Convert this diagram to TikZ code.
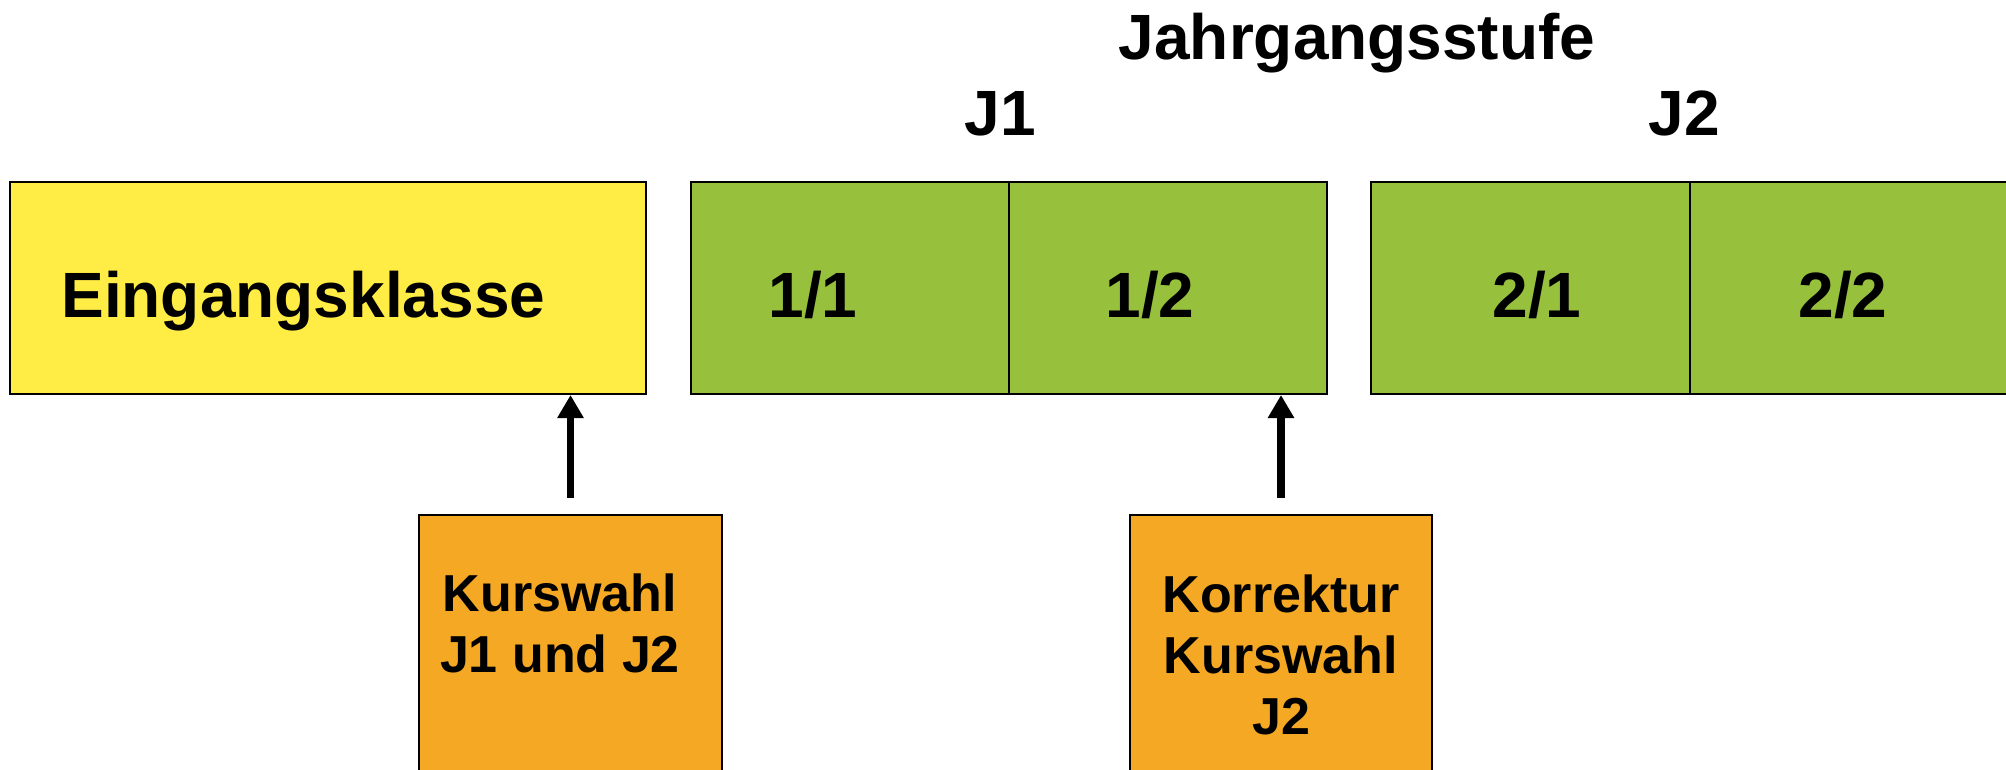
\documentclass[tikz,border=0pt]{standalone}
\usepackage{fontspec}
\setmainfont{Liberation Sans}
\usetikzlibrary{arrows.meta}
\definecolor{yelc}{RGB}{255,236,68}
\definecolor{grnc}{RGB}{151,192,60}
\definecolor{orac}{RGB}{245,168,35}
\tikzset{
  box/.style={draw=black, line width=1pt, rectangle, inner sep=0pt, minimum height=106pt},
  bigtxt/.style={inner sep=0pt, font=\fontsize{32}{38}\selectfont\bfseries},
  smalltxt/.style={inner sep=0pt, align=center, font=\fontsize{26}{30.5}\selectfont\bfseries},
  arr/.style={line width=3.6pt, -{Triangle[width=12.5pt,length=11.5pt]}}
}
\begin{document}
\begin{tikzpicture}[x=0.5pt,y=-0.5pt]
\useasboundingbox (0,0) rectangle (2006,770);
% boxes
\node[box, fill=yelc, minimum width=318pt] (yel) at (328,288) {};
\node[box, fill=grnc, minimum width=159pt] (g11) at (850,288) {};
\node[box, fill=grnc, minimum width=159pt] (g12) at (1168,288) {};
\node[box, fill=grnc, minimum width=159.5pt] (g21) at (1530.5,288) {};
\node[box, fill=grnc, minimum width=159.5pt] (g22) at (1849.5,288) {};
\node[box, fill=orac, minimum width=151.5pt, minimum height=142.5pt] (o1) at (570.5,657) {};
\node[box, fill=orac, minimum width=151pt, minimum height=142.5pt] (o2) at (1281,657) {};
% texts
\node[bigtxt, anchor=base west] (tE) at (61,317) {Eingangsklasse};
\node[bigtxt, anchor=base] (t11) at (813,317) {1/1};
\node[bigtxt, anchor=base] (t12) at (1150,317) {1/2};
\node[bigtxt, anchor=base] (t21) at (1537,317) {2/1};
\node[bigtxt, anchor=base] (t22) at (1843,317) {2/2};
\node[bigtxt, anchor=base] (tJ) at (1357,60) {Jahrgangsstufe};
\node[bigtxt, anchor=base] (tJ1) at (1000,136) {J1};
\node[bigtxt, anchor=base] (tJ2) at (1684,136) {J2};
\node[smalltxt, anchor=base] (to1) at (560,672) {Kurswahl\\J1 und J2};
\node[smalltxt, anchor=base] (to2) at (1281,734) {Korrektur\\Kurswahl\\J2};
% arrows
\draw[arr] ([yshift=8pt]o1.north) -- (o1.north |- yel.south);
\draw[arr] ([yshift=8pt]o2.north) -- (o2.north |- g12.south);
\end{tikzpicture}
\end{document}
